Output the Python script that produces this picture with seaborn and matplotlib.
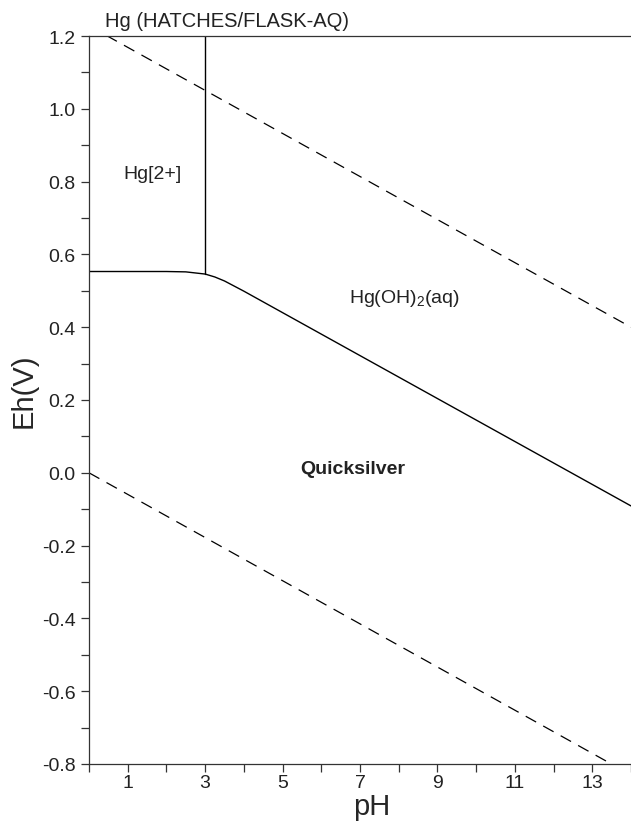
import seaborn as sns
import matplotlib.pyplot as plt
import matplotlib.ticker as mticker
import pandas as pd

# Hg2+/Hg and Hg(OH)2/Hg boundary
boundary_ph = [0, 1, 2, 2.5, 3, 3.25, 3.5, 4, 5, 9, 14]
boundary_eh = [0.553, 0.553, 0.553, 0.552, 0.546, 0.538, 0.527, 0.499, 0.440, 0.204, -0.091]

# Hg2+ / Hg(OH)2 vertical boundary
vert_ph = [3, 3]
vert_eh = [0.546, 1.2]

# water stability lines
water_ph = [0, 14]
o2_eh = [1.228, 0.40]
h2_eh = [0.0, -0.83]

x_major = [1, 3, 5, 7, 9, 11, 13]
y_major = [-0.8, -0.6, -0.4, -0.2, 0.0, 0.2, 0.4, 0.6, 0.8, 1.0, 1.2]

sns.set_theme(style="ticks")
plt.rcParams["font.family"] = ["Liberation Sans", "DejaVu Sans"]
plt.rcParams["mathtext.fontset"] = "custom"
plt.rcParams["mathtext.rm"] = "Liberation Sans"
plt.rcParams["axes.unicode_minus"] = False

fig = plt.figure(figsize=(6.31, 8.28), dpi=100)
ax = fig.add_axes([89 / 631, 63 / 828, 1 - 89 / 631, (765 - 37) / 828])

df_b = pd.DataFrame({"pH": boundary_ph, "Eh": boundary_eh})
df_v = pd.DataFrame({"pH": vert_ph, "Eh": vert_eh})
df_o = pd.DataFrame({"pH": water_ph, "Eh": o2_eh})
df_h = pd.DataFrame({"pH": water_ph, "Eh": h2_eh})

sns.lineplot(data=df_b, x="pH", y="Eh", color="black", lw=1.0, ax=ax,
             sort=False, estimator=None)
sns.lineplot(data=df_v, x="pH", y="Eh", color="black", lw=1.0, ax=ax,
             sort=False, estimator=None)
dash = (0, (9.5, 6.5))
sns.lineplot(data=df_o, x="pH", y="Eh", color="black", lw=0.9, ax=ax,
             estimator=None, linestyle=dash)
sns.lineplot(data=df_h, x="pH", y="Eh", color="black", lw=0.9, ax=ax,
             estimator=None, linestyle=dash)

ax.set_xlim(0, 14)
ax.set_ylim(-0.8, 1.2)
ax.set_xticks(x_major)
ax.xaxis.set_minor_locator(mticker.MultipleLocator(1))
ax.set_yticks(y_major)
ax.yaxis.set_minor_locator(mticker.MultipleLocator(0.1))
ax.yaxis.set_major_formatter(mticker.FormatStrFormatter("%.1f"))
ax.tick_params(which="both", direction="out", length=6, width=0.9, colors="#333333",
               labelsize=14, labelcolor="#222222")
ax.tick_params(axis="x", pad=1.5)
ax.tick_params(axis="y", pad=3.5)

for s in ["left", "bottom", "top"]:
    ax.spines[s].set_visible(True)
    ax.spines[s].set_color("#333333")
    ax.spines[s].set_linewidth(0.9)
ax.spines["right"].set_visible(False)

ax.set_xlabel("pH", fontsize=21)
ax.set_ylabel("Eh(V)", fontsize=21)
ax.xaxis.set_label_coords(0.521, -0.0385)
ax.yaxis.set_label_coords(-0.094, 0.514)

ax.text(0.9, 0.81, "Hg[2+]", fontsize=14, va="baseline", ha="left", color="#222222")
ax.text(6.72, 0.47, "Hg(OH)$_2$(aq)", fontsize=14, va="baseline", ha="left",
        color="#222222")
ax.text(5.45, 0.0, "Quicksilver", fontsize=14, fontweight="bold", va="baseline",
        ha="left", color="#222222")
fig.text(105 / 631, 1 - 27 / 828, "Hg (HATCHES/FLASK-AQ)", fontsize=14.5,
         va="baseline", ha="left", color="#222222")

fig.savefig("out.png", dpi=100)
